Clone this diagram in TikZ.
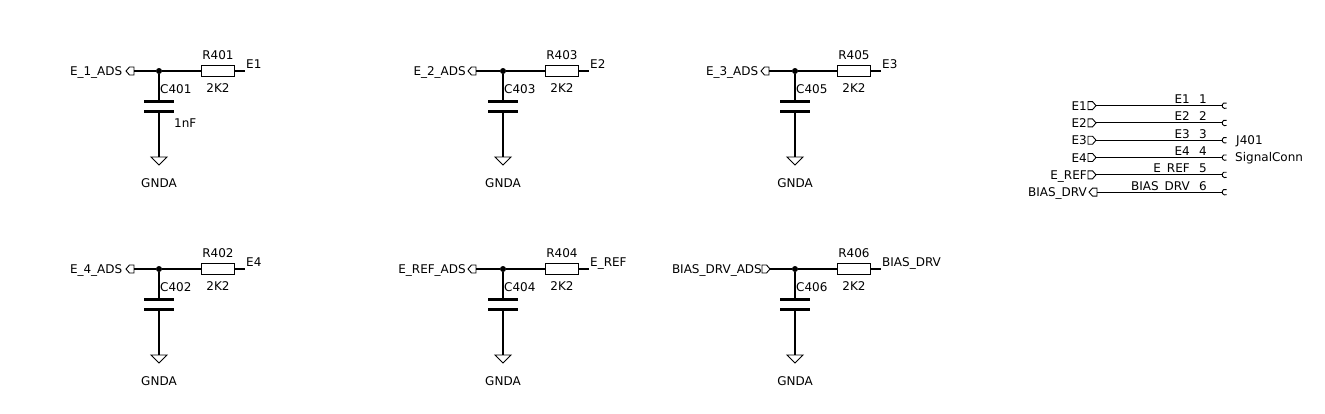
\documentclass[tikz,border=0pt]{standalone}
\usepackage{fontspec}
\setmainfont{DejaVu Sans}

\tikzset{
    every node/.style = {inner sep=0pt, font=\fontsize{12}{12}\selectfont},
    wire/.style = {line width=1.1pt},
    res/.style = {draw, rectangle, line width=1.7pt, minimum width=33pt, minimum height=11pt},
    dot/.style = {circle, fill, minimum size=6pt},
    plate/.style = {line width=3pt},
    sym/.style = {line width=0.9pt},
    pics/port/.style = {code={
        \draw[sym] (0,0) -- (3.5,-4) -- (8,-4) -- (8,4) -- (3.5,4) -- cycle;}}
}

\begin{document}
\begin{tikzpicture}[x=1pt,y=-1pt]
    \useasboundingbox (0,0) rectangle (1325,413);

    % filter blocks
    \foreach \n/\x/\y/\cap/\lbl/\net/\tip/\rot/\from/\lx in {
            401/159/71/401/E\_1\_ADS/E1/-33/0/-25/-36.5,
            402/159/269/402/E\_4\_ADS/E4/-33/0/-25/-36.5,
            403/503/71/403/E\_2\_ADS/E2/-35/0/-27/-37,
            404/503/269/404/E\_REF\_ADS/E\_REF/-35/0/-27/-37,
            405/795/71/405/E\_3\_ADS/E3/-34/0/-26/-36.5,
            406/795/269/406/BIAS\_DRV\_ADS/BIAS\_DRV/-25/180/-25/-33} {
        \begin{scope}[shift={(\x,\y)}]
            \node[dot] (j\n) at (0,0) {};
            \node[res] (r\n) at (59,0) {};
            \coordinate (w\n) at (\from,0);
            \coordinate (e\n) at (86,0);
            \coordinate (a\n) at (0,30);
            \coordinate (b\n) at (0,40);
            \coordinate (g\n) at (0,86);
            \pic[rotate=\rot] at (\tip,0) {port};
            \node[anchor=base east] (l\n) at (\lx,4.5) {\lbl};
            \node (rn\n) at (59,-16) {R\n};
            \node (rv\n) at (59,17) {2K2};
            \node[anchor=west] (c\n) at (1,18) {C\cap};
            \node[anchor=base west] (o\n) at (87,-2.5) {\net};
            \node (gl\n) at (0,112) {GNDA};
            \draw[wire] (w\n) -- (j\n) -- (r\n) -- (e\n);
            \draw[wire] (j\n) -- (a\n);
            \draw[wire] (b\n) -- (g\n);
            \draw[plate] (-15,30) -- (15,30);
            \draw[plate] (-15,40) -- (15,40);
            \draw[sym] (-8,86) -- (8,86) -- (0,94) -- cycle;
        \end{scope}
    }
    \node[anchor=west] (v401) at (174,123) {1nF};

    % connector
    \foreach \n/\name/\lbl/\tip/\rot/\from in {
            1/E1/E1/1096/180/1096,
            2/E2/E2/1096/180/1096,
            3/E3/E3/1096/180/1096,
            4/E4/E4/1096/180/1096,
            5/E\_REF/E\_REF/1096/180/1096,
            6/BIAS\_DRV/BIAS\_DRV/1089/0/1097} {
        \pgfmathsetmacro{\py}{105.6+17.3*(\n-1)}
        \coordinate (s\n) at (\from,\py);
        \coordinate (p\n) at (1222,\py);
        \pic[rotate=\rot] at (\tip,\py) {port};
        \node[anchor=base east] (f\n) at (1087,\py+4.5) {\lbl};
        \node[anchor=base east] (t\n) at (1190,\py-2) {\name};
        \node[anchor=base east] (d\n) at (1207,\py-2) {\n};
        \draw[wire] (s\n) -- (p\n);
        \draw[sym] (1226.5,\py+2.5) arc (60:300:2.9);
    }
    \node[anchor=base west] (jref) at (1236,144.5) {J401};
    \node[anchor=base west] (jval) at (1235,161.5) {SignalConn};
\end{tikzpicture}
\end{document}
